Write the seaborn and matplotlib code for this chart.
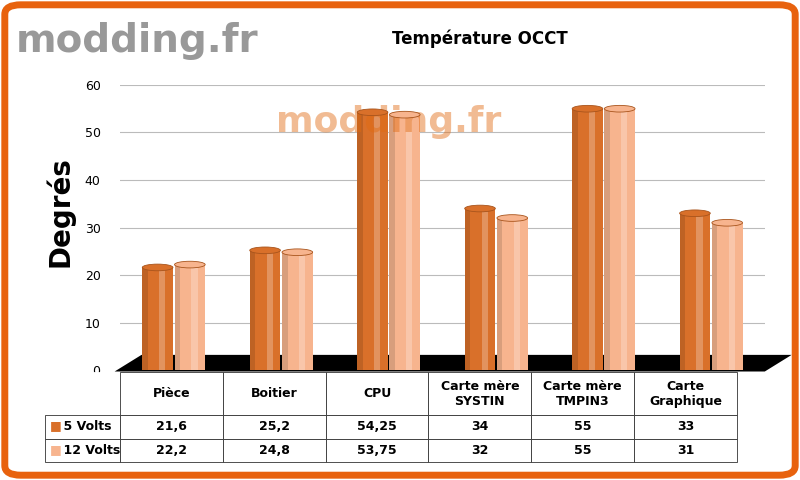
import matplotlib.pyplot as plt
import matplotlib.patches as mpatches
import numpy as np
import pandas as pd
import seaborn as sns

categories = ['Pièce', 'Boitier', 'CPU', 'Carte mère\nSYSTIN', 'Carte mère\nTMPIN3', 'Carte\nGraphique']
series = ['5 Volts', '12 Volts']
volts5 = [21.6, 25.2, 54.25, 34, 55, 33]
volts12 = [22.2, 24.8, 53.75, 32, 55, 31]
labels5 = ['21,6', '25,2', '54,25', '34', '55', '33']
labels12 = ['22,2', '24,8', '53,75', '32', '55', '31']
colors = ['#D9702A', '#F7B48E']

df = pd.DataFrame({
    'cat': categories * 2,
    'serie': [series[0]] * 6 + [series[1]] * 6,
    'val': volts5 + volts12,
})

fig = plt.figure(figsize=(8, 4.8), dpi=100)
fig.patch.set_facecolor('white')
fig.add_artist(mpatches.FancyBboxPatch((0.006, 0.01), 0.988, 0.98, boxstyle='round,pad=0,rounding_size=0.02',
                                       transform=fig.transFigure, fill=False, edgecolor='#E8620E', linewidth=5))

ax = fig.add_axes([0.15, 0.229, 0.806, 0.594])
sns.barplot(data=df, x='cat', y='val', hue='serie', palette=colors, ax=ax, saturation=1,
            width=0.6, gap=0.05, edgecolor='none', legend=False)
for i, p in enumerate(ax.patches):
    x0, w, h = p.get_x(), p.get_width(), p.get_height()
    if h <= 0:
        continue
    base = colors[0] if i < 6 else colors[1]
    p.set_zorder(2)
    ax.add_patch(mpatches.Rectangle((x0, 0), w * 0.18, h, facecolor='black', alpha=0.12, lw=0, zorder=3))
    ax.add_patch(mpatches.Rectangle((x0 + w * 0.55, 0), w * 0.2, h, facecolor='white', alpha=0.25, lw=0, zorder=3))
    ax.add_patch(mpatches.Ellipse((x0 + w / 2, h), w, 1.4, facecolor=base, edgecolor='#A8541C', lw=0.6, zorder=4))
ax.set_ylim(0, 60)
ax.set_xlim(-0.5, 5.5)
ax.set_yticks(range(0, 61, 10))
ax.grid(axis='y', color='#BBBBBB', lw=0.8)
ax.set_axisbelow(True)
ax.set_xticks([])
ax.set_xlabel('')
ax.set_ylabel('')
for s in ax.spines.values():
    s.set_visible(False)
ax.tick_params(axis='y', length=0, labelsize=9, pad=14)
# black floor
ax.add_patch(mpatches.Polygon([(-0.55, -0.3), (5.5, -0.3), (5.75, 3.2), (-0.3, 3.2)], closed=True,
                              facecolor='black', clip_on=False, zorder=1))
ax.text(2.0, 50, 'modding.fr', fontsize=26, fontweight='bold', color='#E06A10', alpha=0.45, ha='center')

fig.text(0.6, 0.92, 'Température OCCT', ha='center', va='center', fontsize=12, fontweight='bold')
fig.text(0.075, 0.56, 'Degrés', rotation=90, ha='center', va='center', fontsize=20, fontweight='bold')
fig.text(0.02, 0.915, 'modding.fr', fontsize=28, fontweight='bold', color='#999999', va='center')

tax = fig.add_axes([45 / 800, 18 / 480, (737 - 45) / 800, (462 - 372) / 480])
tax.axis('off')
cells = [[''] + categories, ['    5 Volts'] + labels5, ['    12 Volts'] + labels12]
tb = tax.table(cellText=cells, bbox=[0, 0, 1, 1], cellLoc='center',
               colWidths=[75] + [103] * 6)
tb.auto_set_font_size(False)
tb.set_fontsize(9)
for (r, c), cell in tb.get_celld().items():
    cell.set_edgecolor('#333333')
    cell.set_linewidth(0.6)
    cell.get_text().set_fontweight('bold')
    if r == 0:
        cell.set_height(0.48)
        if c == 0:
            cell.set_edgecolor('white')
    else:
        cell.set_height(0.26)
    if c == 0:
        cell._loc = 'left'
        cell.get_text().set_ha('left')
        cell.PAD = 0.02
fig.text(50 / 800, 1 - 426 / 480, '■', color=colors[0], fontsize=9, va='center')
fig.text(50 / 800, 1 - 450 / 480, '■', color=colors[1], fontsize=9, va='center')

plt.savefig('out.png', dpi=100)
